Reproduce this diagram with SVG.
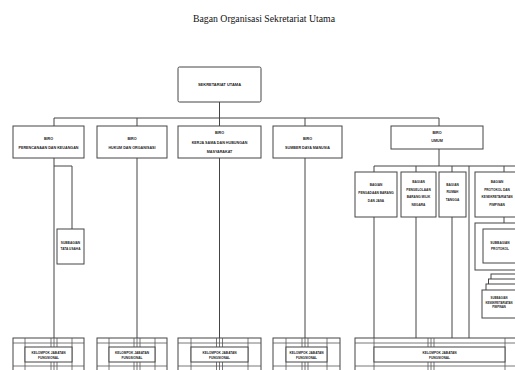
<svg xmlns="http://www.w3.org/2000/svg" width="515" height="370" viewBox="0 0 515 370">
<style>
.box{fill:#fff;stroke:#444;stroke-width:1}
.ln{stroke:#444;stroke-width:1;fill:none}
.thin{stroke:#555;stroke-width:0.8;fill:none}
.t{font-family:"Liberation Sans",Arial,sans-serif;font-size:3.7px;font-weight:bold;fill:#222;text-anchor:middle}
.s{font-family:"Liberation Sans",Arial,sans-serif;font-size:3.2px;font-weight:bold;fill:#222;text-anchor:middle}
.title{font-family:"Liberation Serif","Times New Roman",serif;font-size:10px;fill:#111;text-anchor:middle}
</style>
<rect width="515" height="370" fill="#fff"/>
<text class="title" x="264" y="22" textLength="142" lengthAdjust="spacingAndGlyphs">Bagan Organisasi Sekretariat Utama</text>

<g id="connectors">
<path class="ln" d="M219.5,102V118M54,118H439M54,118V126M137,118V126M219.5,118V126M305,118V126M439,118V126"/>
<path class="ln" d="M54,158V338M54,166H72V229M137,158V338M219.5,158V338M305,158V338"/>
<path class="ln" d="M439,149V166M374,166H516M374,166V172M416,166V172M452,166V172M469,166V338M504,166V172"/>
<path class="ln" d="M374,217V338M416,217V338M452,217V338M504,217V229"/>
</g>

<g id="sekretariat-utama">
<rect class="box" x="178" y="67" width="83" height="35" rx="1.5"/>
<text class="t" x="219.5" y="86" style="font-size:4px">SEKRETARIAT UTAMA</text>
</g>

<g id="biro-perencanaan">
<rect class="box" x="13" y="126" width="71" height="32"/>
<text class="t" x="48.5" y="139.5">BIRO</text>
<text class="t" x="48.5" y="149">PERENCANAAN DAN KEUANGAN</text>
</g>
<g id="biro-hukum">
<rect class="box" x="97" y="126" width="70" height="32"/>
<text class="t" x="132" y="139.5">BIRO</text>
<text class="t" x="132" y="149">HUKUM DAN ORGANISASI</text>
</g>
<g id="biro-kerja-sama">
<rect class="box" x="178" y="126" width="83" height="32"/>
<text class="t" x="219.5" y="134">BIRO</text>
<text class="t" x="219.5" y="143.5">KERJA SAMA DAN HUBUNGAN</text>
<text class="t" x="219.5" y="153">MASYARAKAT</text>
</g>
<g id="biro-sdm">
<rect class="box" x="273" y="126" width="69" height="32"/>
<text class="t" x="307.5" y="139.5">BIRO</text>
<text class="t" x="307.5" y="149">SUMBER DAYA MANUSIA</text>
</g>
<g id="biro-umum">
<rect class="box" x="391" y="126" width="92" height="23"/>
<text class="t" x="437" y="134">BIRO</text>
<text class="t" x="437" y="142">UMUM</text>
</g>

<g id="subbag-tata-usaha">
<rect class="box" x="57" y="229" width="27" height="35"/>
<text class="s" x="70.5" y="244">SUBBAGIAN</text>
<text class="s" x="70.5" y="250">TATA USAHA</text>
</g>

<g id="bagian-pengadaan">
<rect class="box" x="355" y="172" width="42" height="45"/>
<text class="s" x="376" y="186">BAGIAN</text>
<text class="s" x="376" y="194">PENGADAAN BARANG</text>
<text class="s" x="376" y="202">DAN JASA</text>
</g>
<g id="bagian-bmn">
<rect class="box" x="401" y="172" width="35" height="45"/>
<text class="s" x="418.5" y="183">BAGIAN</text>
<text class="s" x="418.5" y="190.5">PENGELOLAAN</text>
<text class="s" x="418.5" y="198">BARANG MILIK</text>
<text class="s" x="418.5" y="205.5">NEGARA</text>
</g>
<g id="bagian-rumah-tangga">
<rect class="box" x="439" y="172" width="27" height="45"/>
<text class="s" x="452.5" y="186">BAGIAN</text>
<text class="s" x="452.5" y="193">RUMAH</text>
<text class="s" x="452.5" y="200.5">TANGGA</text>
</g>
<g id="bagian-protokol">
<rect class="box" x="475" y="172" width="45" height="45"/>
<text class="s" x="497" y="183">BAGIAN</text>
<text class="s" x="497" y="190.5">PROTOKOL DAN</text>
<text class="s" x="497" y="198">KESEKRETARIATAN</text>
<text class="s" x="497" y="205.5">PIMPINAN</text>
</g>

<g id="subbag-protokol">
<rect class="box" x="475" y="223" width="45" height="47"/>
<rect class="box" x="483" y="229" width="37" height="34"/>
<text class="s" x="500" y="244">SUBBAGIAN</text>
<text class="s" x="500" y="250">PROTOKOL</text>
</g>

<g id="subbag-kesekretariatan">
<rect class="box" x="491" y="274" width="30" height="26"/>
<rect class="box" x="488.5" y="279" width="30" height="28"/>
<rect class="box" x="486" y="284" width="31" height="30"/>
<rect class="box" x="482" y="290" width="34" height="28"/>
<text class="s" x="499" y="299" style="font-size:2.8px">SUBBAGIAN</text>
<text class="s" x="499" y="303.5" style="font-size:2.8px">KESEKRETARIATAN</text>
<text class="s" x="499" y="308" style="font-size:2.8px">PIMPINAN</text>
</g>

<g id="kjf-1">
<rect class="box" x="13" y="338" width="71" height="40"/>
<path class="thin" d="M13,343H84M13,366H84M25,338V378M72,338V378M51,338V347M54,338V347M57,338V347M51,362V378M54,362V378M57,362V378"/>
<rect class="box" x="25" y="347" width="47" height="15"/>
<text class="s" x="48.5" y="353.5">KELOMPOK JABATAN</text>
<text class="s" x="48.5" y="358.5">FUNGSIONAL</text>
</g>
<g id="kjf-2">
<rect class="box" x="97" y="338" width="70" height="40"/>
<path class="thin" d="M97,343H167M97,366H167M109,338V378M155,338V378M134,338V347M137,338V347M140,338V347M134,362V378M137,362V378M140,362V378"/>
<rect class="box" x="109" y="347" width="46" height="15"/>
<text class="s" x="132" y="353.5">KELOMPOK JABATAN</text>
<text class="s" x="132" y="358.5">FUNGSIONAL</text>
</g>
<g id="kjf-3">
<rect class="box" x="178" y="338" width="83" height="40"/>
<path class="thin" d="M178,343H261M178,366H261M191,338V378M248,338V378M216.5,338V347M219.5,338V347M222.5,338V347M216.5,362V378M219.5,362V378M222.5,362V378"/>
<rect class="box" x="191" y="347" width="57" height="15"/>
<text class="s" x="219.5" y="353.5">KELOMPOK JABATAN</text>
<text class="s" x="219.5" y="358.5">FUNGSIONAL</text>
</g>
<g id="kjf-4">
<rect class="box" x="273" y="338" width="67" height="40"/>
<path class="thin" d="M273,343H340M273,366H340M286,338V378M327,338V378M302,338V347M305,338V347M308,338V347M302,362V378M305,362V378M308,362V378"/>
<rect class="box" x="286" y="347" width="41" height="15"/>
<text class="s" x="306.5" y="353.5">KELOMPOK JABATAN</text>
<text class="s" x="306.5" y="358.5">FUNGSIONAL</text>
</g>
<g id="kjf-5">
<rect class="box" x="355" y="338" width="165" height="40"/>
<path class="thin" d="M355,343H520M355,366H520M374,338V378M505,338V378M428,338V347M431,338V347M434,338V347M428,362V378M431,362V378M434,362V378"/>
<rect class="box" x="374" y="347" width="131" height="15"/>
<text class="s" x="439.5" y="353.5">KELOMPOK JABATAN</text>
<text class="s" x="439.5" y="358.5">FUNGSIONAL</text>
</g>
</svg>
